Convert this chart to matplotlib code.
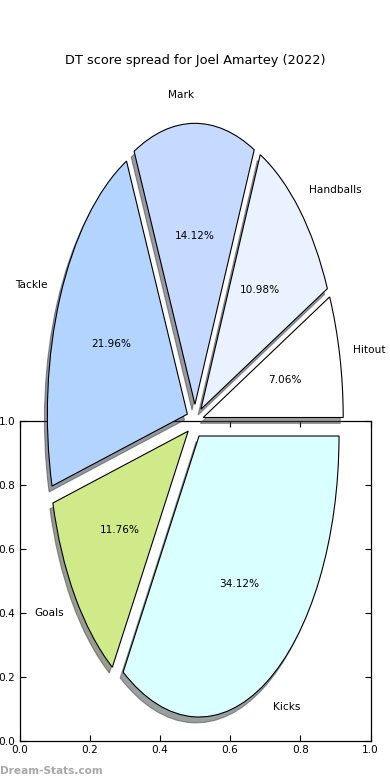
import matplotlib
matplotlib.use('Agg')
import matplotlib.pyplot as plt

# DT points per stat (counter-clockwise from 0 degrees)
labels = ['Hitout', 'Handballs', 'Mark', 'Tackle', 'Goals', 'Kicks']
points = [18, 28, 36, 56, 30, 87]
colors = ['#ffffff', '#ebf2ff', '#c6d9ff', '#b3d4ff', '#d0ea8a', '#d9ffff']
explode = [0.06] * len(points)

title = 'DT score spread for Joel Amartey (2022)'
ticks = [0.0, 0.2, 0.4, 0.6, 0.8, 1.0]

fig = plt.figure(figsize=(3.9, 7.8), dpi=100)

# Leftover frame axes in the lower half
frame = fig.add_axes([0.05, 0.05, 0.9, 0.41])
frame.set_xlim(0, 1)
frame.set_ylim(0, 1)
frame.set_xticks(ticks)
frame.set_yticks(ticks)
frame.tick_params(direction='in', length=4, width=0.8, labelsize=7.6, pad=3,
                  top=True, right=True)
for s in frame.spines.values():
    s.set_linewidth(0.9)

# Pie axes covering the whole figure, not square -> elliptical pie
ax = fig.add_axes([0, 0, 1, 1])
wedges, texts, autotexts = ax.pie(
    points,
    labels=labels,
    colors=colors,
    explode=explode,
    autopct='%.2f%%',
    shadow={'ox': -0.015, 'oy': -0.015, 'shade': 0.75},
    wedgeprops={'edgecolor': 'k', 'linewidth': 0.8},
    textprops={'fontsize': 7.6},
)
ax.set_aspect('auto')
rx, ry = 140 / 390, 281 / 780
ax.set_xlim(-0.5 / rx, 0.5 / rx)
ax.set_ylim(-0.46 / ry, 0.54 / ry)
ax.set_axis_off()

fig.text(0.5, 0.923, title, ha='center', va='center', fontsize=9.3)
fig.text(0.0, 0.012, 'Dream-Stats.com', ha='left', va='center',
         fontsize=7.6, fontweight='bold', color='#a8a8a8')

fig.savefig('out.png', dpi=100, facecolor='white')
plt.close(fig)
